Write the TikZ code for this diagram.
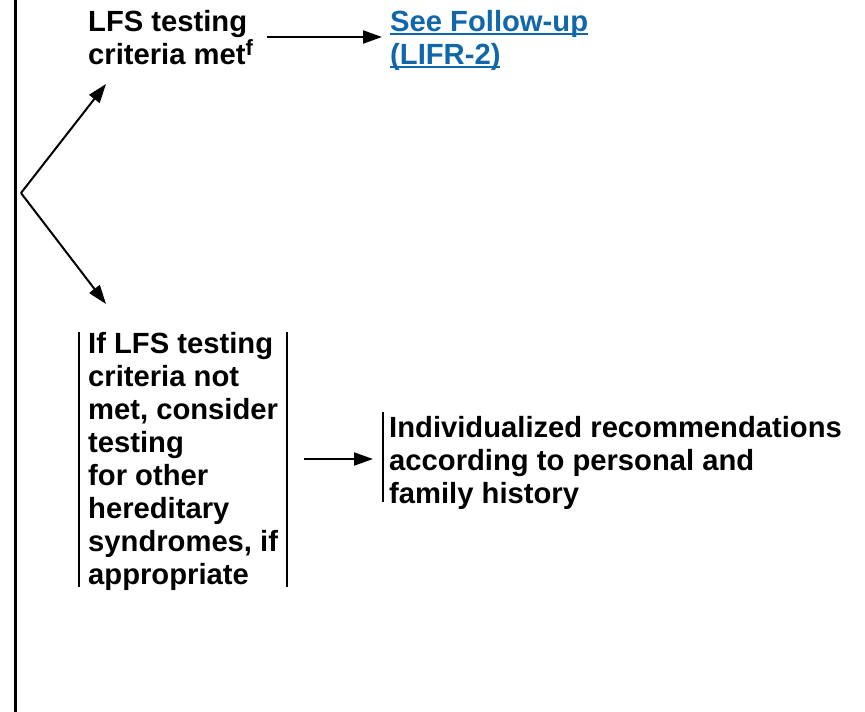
\documentclass[tikz,border=0pt]{standalone}
\usepackage{fontspec}
\setmainfont{Liberation Sans}
\usetikzlibrary{arrows.meta}
\definecolor{linkblue}{RGB}{16,103,170}
\newcommand{\myul}[1]{\setbox0\hbox{#1}\rlap{\rule[-4pt]{\wd0}{2pt}}\box0}
\begin{document}
\begin{tikzpicture}[x=1pt,y=-1pt,
  txt/.style={inner sep=0pt, anchor=north west, align=left, font=\fontsize{29.2}{33}\selectfont\bfseries},
  arr/.style={line width=2pt, -{Triangle[length=19pt,width=13pt]}},
  bar/.style={line width=2pt}]
\useasboundingbox (0,0) rectangle (865,712);
% left vertical rule
\draw[line width=2.5pt] (15.5,0) -- (15.5,712);
% texts
\node[txt] (met) at (88,10) {LFS testing\\criteria met\textsuperscript{\fontsize{22}{22}\selectfont f}};
\node[txt, text=linkblue] (follow) at (390,10) {\myul{See Follow-up}\\\myul{(LIFR-2)}};
\node[txt] (notmet) at (88,332) {If LFS testing\\criteria not\\met, consider\\testing\\for other\\hereditary\\syndromes, if\\appropriate};
\node[txt] (indiv) at (389,416) {Individualized recommendations\\according to personal and\\family history};
% coordinates
\coordinate (apex) at (21,193);
\coordinate (uptip) at (106,84);
\coordinate (downtip) at (106,304);
\coordinate (a1s) at (267,37);
\coordinate (a1e) at (382,37);
\coordinate (a2s) at (304,459);
\coordinate (a2e) at (373,459);
% arrows
\draw[arr] (apex) -- (uptip);
\draw[arr] (apex) -- (downtip);
\draw[arr] (a1s) -- (a1e);
\draw[arr] (a2s) -- (a2e);
% bars
\draw[bar] (79,332) -- (79,587);
\draw[bar] (287,332) -- (287,587);
\draw[bar] (383,412) -- (383,502);
\end{tikzpicture}
\end{document}
